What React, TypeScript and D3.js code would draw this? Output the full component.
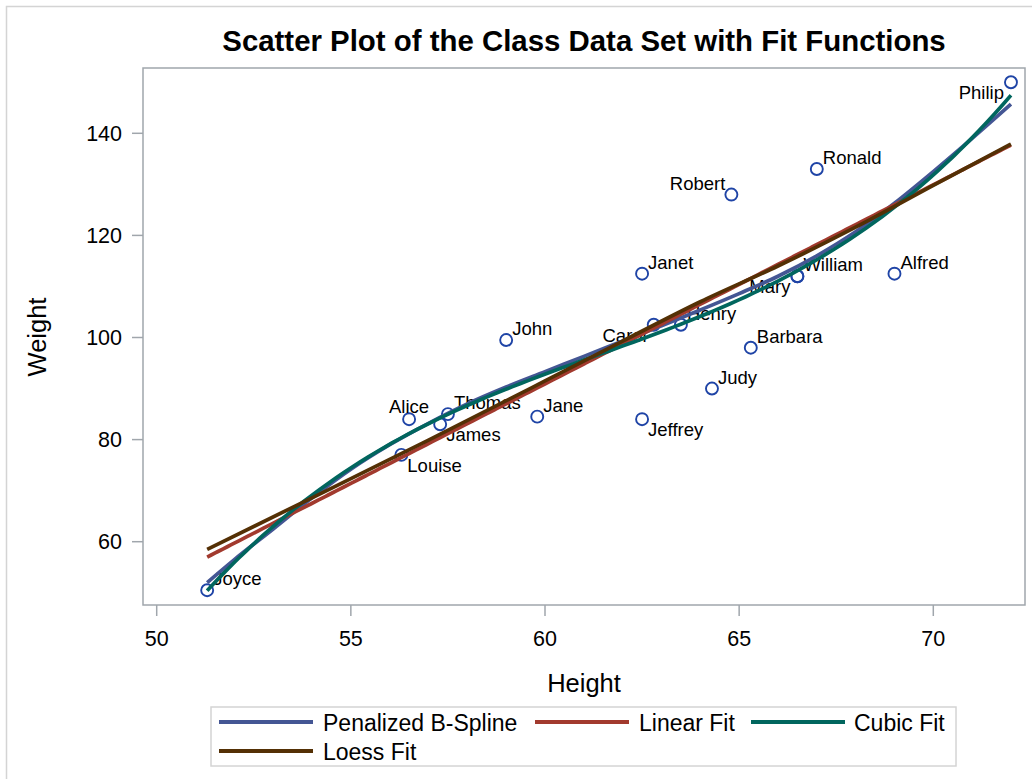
import React from "react";
import * as d3 from "d3";

const names = ["Alfred","Alice","Barbara","Carol","Henry","James","Jane","Janet","Jeffrey","John","Joyce","Judy","Louise","Mary","Philip","Robert","Ronald","Thomas","William"];
const heights = [69.0,56.5,65.3,62.8,63.5,57.3,59.8,62.5,62.5,59.0,51.3,64.3,56.3,66.5,72.0,64.8,67.0,57.5,66.5];
const weights = [112.5,84.0,98.0,102.5,102.5,83.0,84.5,112.5,84.0,99.5,50.5,90.0,77.0,112.0,150.0,128.0,133.0,85.0,112.0];
const labelPos = ["NE","N","NE","SW","NE","SE","NE","NE","SE","NE","NE","NE","SE","SW","SW","NW","NE","NE","NE"];

const xTicks = [50,55,60,65,70];
const yTicks = [60,80,100,120,140];

// Penalized B-spline and loess curves
const splineX = [51.3,52,53,54,55,56,57,58,59,60,61,62,63,64,65,66,67,68,69,70,71,72];
const splineY = [52.0,56.5,62.5,68.6,74.2,79.0,83.2,87.0,90.3,93.3,96.3,99.3,102.3,105.4,108.6,112.0,116.0,120.7,126.3,132.5,139.0,145.7];
const loessX = [51.3,54,57,60,62,64,66,68,70,72];
const loessY = [58.5,68.6,79.9,91.5,99.3,107.0,114.0,121.6,129.8,137.9];

const legendItems = ["Penalized B-Spline","Linear Fit","Cubic Fit","Loess Fit"];
const colors = ["#445694","#A23A2E","#01665E","#543005"];

function polyFit(xs: number[], ys: number[], deg: number) {
  const c = 62;
  const n = deg + 1;
  const A: number[][] = Array.from({ length: n }, () => new Array(n + 1).fill(0));
  xs.forEach((x0, k) => {
    const x = x0 - c;
    for (let i = 0; i < n; i++) {
      for (let j = 0; j < n; j++) A[i][j] += Math.pow(x, i + j);
      A[i][n] += Math.pow(x, i) * ys[k];
    }
  });
  for (let i = 0; i < n; i++) {
    let p = i;
    for (let r = i + 1; r < n; r++) if (Math.abs(A[r][i]) > Math.abs(A[p][i])) p = r;
    [A[i], A[p]] = [A[p], A[i]];
    for (let r = 0; r < n; r++) {
      if (r === i) continue;
      const f = A[r][i] / A[i][i];
      for (let k = i; k <= n; k++) A[r][k] -= f * A[i][k];
    }
  }
  const coef = A.map((row, i) => row[n] / row[i]);
  return (x0: number) => {
    const x = x0 - c;
    return coef.reduce((s, a, i) => s + a * Math.pow(x, i), 0);
  };
}

export default function App() {
  const W = 1032, H = 779;
  const L = 143, T = 68, R = 1025, B = 605;
  const x = d3.scaleLinear().domain([50, 70]).range([156.7, 933.3]);
  const y = d3.scaleLinear().domain([60, 140]).range([541.7, 133.3]);
  const font = "'Liberation Sans', Arial, sans-serif";
  const xmin = d3.min(heights)!, xmax = d3.max(heights)!;
  const grid = d3.range(0, 101).map((i) => xmin + (xmax - xmin) * i / 100);
  const lin = polyFit(heights, weights, 1);
  const cub = polyFit(heights, weights, 3);
  const line = d3.line<[number, number]>().x((d) => x(d[0])).y((d) => y(d[1])).curve(d3.curveMonotoneX);
  const curves: [number, number][][] = [
    splineX.map((v, i) => [v, splineY[i]]),
    grid.map((v) => [v, lin(v)]),
    grid.map((v) => [v, cub(v)]),
    loessX.map((v, i) => [v, loessY[i]]),
  ];
  const offs: Record<string, [number, number, string]> = {
    NE: [6, -5, "start"],
    SE: [6, 17, "start"],
    NW: [-6, -5, "end"],
    SW: [-7, 17, "end"],
    N: [0, -6, "middle"],
  };
  const legendPos = [
    { sx: 219, tx: 323, y: 722 },
    { sx: 535, tx: 639, y: 722 },
    { sx: 751, tx: 854, y: 722 },
    { sx: 219, tx: 323, y: 751 },
  ];
  return (
    <svg width={W} height={H} style={{ position: "absolute", left: 0, top: 0, background: "#fff" }} fontFamily={font}>
      <rect x={6.5} y={6.5} width={1040} height={800} fill="#fff" stroke="#d4d4d4" strokeWidth={1.5} />
      <text x={584} y={51} textAnchor="middle" fontSize={29.4} fontWeight="bold" fill="#000">
        Scatter Plot of the Class Data Set with Fit Functions
      </text>
      <rect x={L} y={T} width={R - L} height={B - T} fill="#fff" stroke="#a0a6ac" strokeWidth={1.5} />
      {xTicks.map((t) => (
        <g key={"x" + t}>
          <line x1={x(t)} x2={x(t)} y1={B} y2={B + 11} stroke="#a0a6ac" strokeWidth={1.5} />
          <text x={x(t)} y={646} textAnchor="middle" fontSize={21.5} fill="#000">{t}</text>
        </g>
      ))}
      {yTicks.map((t) => (
        <g key={"y" + t}>
          <line x1={L - 11} x2={L} y1={y(t)} y2={y(t)} stroke="#a0a6ac" strokeWidth={1.5} />
          <text x={122} y={y(t)} dy="0.36em" textAnchor="end" fontSize={21.5} fill="#000">{t}</text>
        </g>
      ))}
      <text x={584} y={692} textAnchor="middle" fontSize={25.5} fill="#000">Height</text>
      <text transform="translate(46,337) rotate(-90)" textAnchor="middle" fontSize={25.5} fill="#000">Weight</text>
      <g>
        {names.map((n, i) => {
          const o = offs[labelPos[i]];
          return (
            <g key={n}>
              <circle cx={x(heights[i])} cy={y(weights[i])} r={6} fill="none" stroke="#1f44a6" strokeWidth={1.9} />
              <text x={x(heights[i]) + o[0]} y={y(weights[i]) + o[1]} textAnchor={o[2] as any} fontSize={18.5} fill="#000">{n}</text>
            </g>
          );
        })}
      </g>
      {curves.map((c, i) => (
        <path key={i} d={line(c) || ""} fill="none" stroke={colors[i]} strokeWidth={3.7} />
      ))}
      <rect x={211} y={707} width={745} height={59} fill="#fff" stroke="#d4d4d4" strokeWidth={1.5} />
      {legendItems.map((s, i) => (
        <g key={s}>
          <line x1={legendPos[i].sx} x2={legendPos[i].sx + 94} y1={legendPos[i].y} y2={legendPos[i].y} stroke={colors[i]} strokeWidth={3.8} />
          <text x={legendPos[i].tx} y={legendPos[i].y + 9} fontSize={23} fill="#000">{s}</text>
        </g>
      ))}
    </svg>
  );
}
